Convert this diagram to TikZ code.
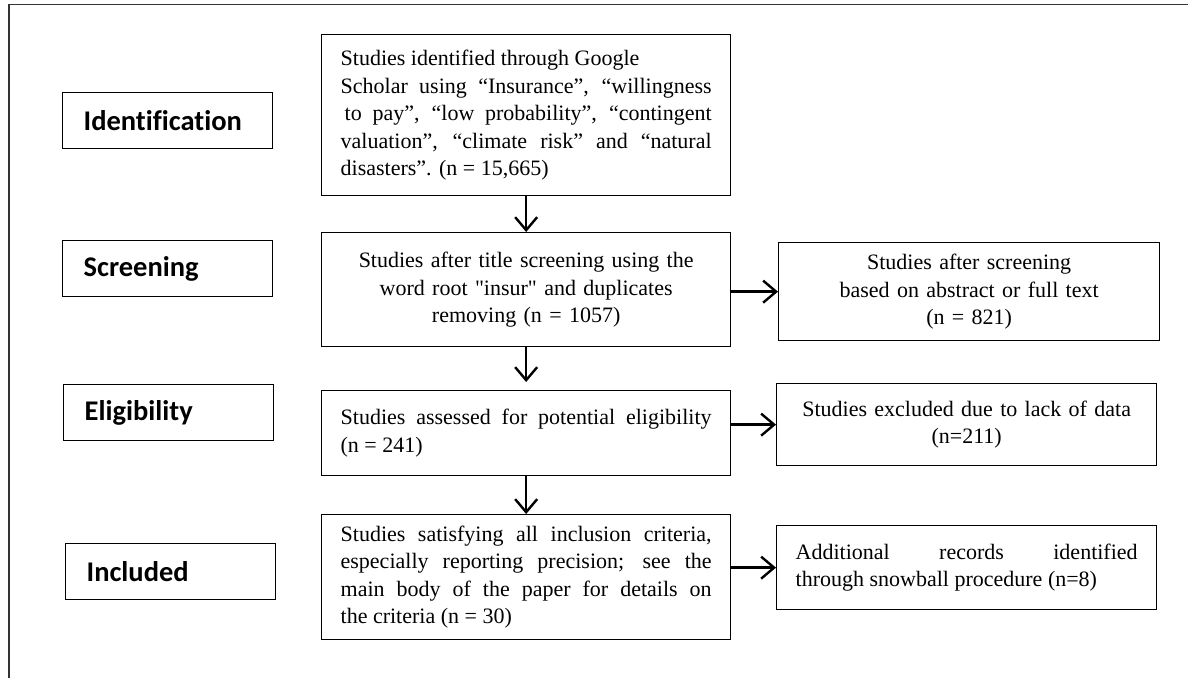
\documentclass[tikz,border=0pt]{standalone}
\usepackage{fontspec}
\setmainfont{Liberation Serif}[Ligatures=TeXOff]
\newfontfamily\stagefont{Carlito}[Ligatures={TeXOff,NoCommon}]
\usetikzlibrary{arrows.meta}

\begin{document}
\begin{tikzpicture}[x=1pt,y=-1pt,
  stage/.style={draw,line width=1.3pt,anchor=north west,minimum width=210pt,
    minimum height=56pt,inner xsep=21pt,text width=168pt,align=left,
    font=\stagefont\bfseries\fontsize{28.5}{32}\selectfont},
  rec/.style={draw,line width=1.3pt,anchor=north west,inner xsep=19pt,
    font=\fontsize{22}{27.5}\selectfont},
  flow/.style={line width=2.4pt,-{Straight Barb[length=13pt,width=22pt]}}]
\useasboundingbox (0,0) rectangle (1188,678);
\draw[line width=1.6pt,black!80] (9,678) -- (9,4.5) -- (1188,4.5);
% stages on the left
\node[stage] (ident) at (62,92) {Identification};
\node[stage] (screen) at (62,240) {Screening};
\node[stage] (elig) at (63,384) {Eligibility};
\node[stage] (incl) at (65,543) {Included};
% middle column
\node[rec,text width=371pt,minimum height=161pt,align=justify] (found) at (321,34)
  {Studies identified through Google\\ Scholar using “Insurance”, “willingness\linebreak
   \hspace*{4pt}to pay”, “low probability”, “contingent\linebreak valuation”, “climate risk” and
   “natural\linebreak disasters”. (n = 15,665)};
\node[rec,text width=371pt,minimum height=114pt,align=center] (title) at (321,232)
  {Studies after title screening using the\\ word root "insur" and duplicates\\
   removing (n = 1057)};
\node[rec,text width=371pt,minimum height=85pt,align=justify] (assess) at (321,390)
  {Studies assessed for potential eligibility\linebreak (n = 241)};
\node[rec,text width=371pt,minimum height=125pt,align=justify] (satisfy) at (321,514)
  {Studies satisfying all inclusion criteria,\linebreak especially reporting precision;
   see the\linebreak main body of the paper for details on\linebreak the criteria (n = 30)};
% right column
\node[rec,text width=343pt,minimum height=98pt,align=center] (after) at (778,242)
  {Studies after screening\\ based on abstract or full text\\ (n = 821)};
\node[rec,text width=342pt,minimum height=82pt,align=center] (excl) at (776,383)
  {Studies excluded due to lack of data\\ (n=211)};
\node[rec,text width=342pt,minimum height=84pt,align=justify] (extra) at (776,525)
  {Additional records identified\linebreak through snowball procedure (n=8)};
% arrows
\draw[flow] (found.south) -- (title.north);
\draw[flow,shorten >=8pt] (title.south) -- (assess.north);
\draw[flow] (assess.south) -- (satisfy.north);
\draw[flow] (title.east |- after.west) -- (after.west);
\draw[flow] (assess.east |- excl.west) -- (excl.west);
\draw[flow] (satisfy.east |- extra.west) -- (extra.west);
\end{tikzpicture}
\end{document}
